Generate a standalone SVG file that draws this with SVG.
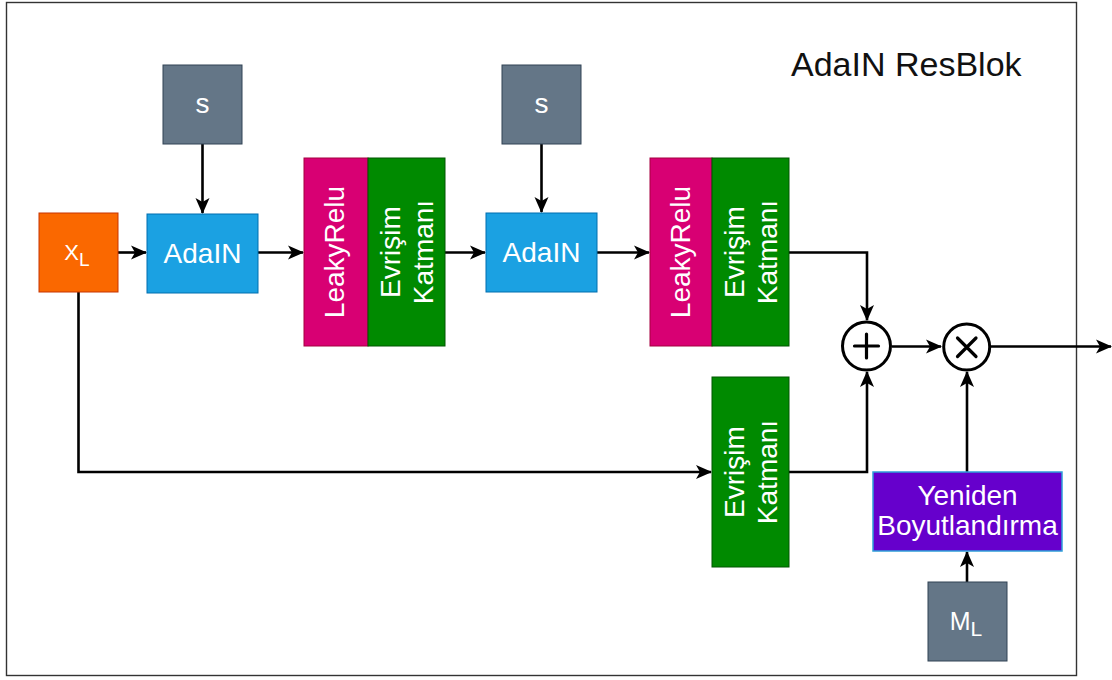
<svg xmlns="http://www.w3.org/2000/svg" width="1112" height="680" viewBox="0 0 1112 680">
<defs>
<style>
text{font-family:"Liberation Sans",Arial,sans-serif;fill:#ffffff}
.t{font-size:28px;text-anchor:middle}
.title{font-size:34px;fill:#111111}
.gray{fill:#647687;stroke:#314354;stroke-width:1}
.blue{fill:#1ba1e2;stroke:#006eaf;stroke-width:1}
.orange{fill:#fa6800;stroke:#c73500;stroke-width:1}
.pink{fill:#d80073;stroke:#a50040;stroke-width:1}
.green{fill:#008a00;stroke:#005700;stroke-width:1}
.purple{fill:#6600cc;stroke:#2f9fd8;stroke-width:1.5}
.c{fill:none;stroke:#000000;stroke-width:2.6;marker-end:url(#ah)}
.op{fill:#ffffff;stroke:#000000;stroke-width:3}
.sym{stroke:#000000;stroke-width:3.2;stroke-linecap:round;fill:none}
</style>
<marker id="ah" markerUnits="userSpaceOnUse" viewBox="0 0 16 16" markerWidth="16" markerHeight="16" refX="15" refY="8" orient="auto">
<path d="M0,1 L16,8 L0,15 L4,8 z" fill="#000000"/>
</marker>
</defs>
<rect x="6.5" y="2.5" width="1070" height="673" fill="#ffffff" stroke="#333333" stroke-width="1.4"/>
<text class="title" x="791" y="76">AdaIN ResBlok</text>

<g id="connectors">
<path class="c" d="M202.5,144 V213"/>
<path class="c" d="M118,252.5 H146"/>
<path class="c" d="M258,252.5 H303"/>
<path class="c" d="M445,252.5 H485"/>
<path class="c" d="M541.5,144 V212"/>
<path class="c" d="M597,252.5 H649"/>
<path class="c" d="M789,252.5 H867 V320"/>
<path class="c" d="M78.5,292 V472 H711"/>
<path class="c" d="M789,472 H867 V372"/>
<path class="c" d="M892,346.5 H941"/>
<path class="c" d="M991,346.5 H1111"/>
<path class="c" d="M967,472 V372"/>
<path class="c" d="M967,582 V552"/>
</g>

<g id="s1"><rect class="gray" x="163" y="65" width="79" height="79"/><text class="t" x="202.5" y="113" font-size="27">s</text></g>
<g id="s2"><rect class="gray" x="502" y="65" width="79" height="79"/><text class="t" x="541.5" y="113" font-size="27">s</text></g>
<g id="xl"><rect class="orange" x="39" y="213" width="79" height="79"/><text x="77" y="260" font-size="22" text-anchor="middle">X<tspan font-size="19" dy="6">L</tspan></text></g>
<g id="adain1"><rect class="blue" x="147" y="214" width="111" height="79"/><text class="t" x="202.5" y="263">AdaIN</text></g>
<g id="leaky1"><rect class="pink" x="304" y="158" width="64" height="188"/><text class="t" transform="translate(343.5,252) rotate(-90)">LeakyRelu</text></g>
<g id="conv1"><rect class="green" x="368" y="158" width="77" height="188"/><text class="t" transform="translate(400,252) rotate(-90)">Evrişim</text><text class="t" transform="translate(433.3,252) rotate(-90)">Katmanı</text></g>
<g id="adain2"><rect class="blue" x="486" y="213" width="111" height="79"/><text class="t" x="541.5" y="262">AdaIN</text></g>
<g id="leaky2"><rect class="pink" x="650" y="158" width="62" height="188"/><text class="t" transform="translate(689.5,252) rotate(-90)">LeakyRelu</text></g>
<g id="conv2"><rect class="green" x="712" y="158" width="77" height="188"/><text class="t" transform="translate(743.5,252) rotate(-90)">Evrişim</text><text class="t" transform="translate(776.8,252) rotate(-90)">Katmanı</text></g>
<g id="conv3"><rect class="green" x="712" y="377" width="77" height="190"/><text class="t" transform="translate(743.5,472) rotate(-90)">Evrişim</text><text class="t" transform="translate(776.8,472) rotate(-90)">Katmanı</text></g>
<g id="plus"><circle class="op" cx="866.5" cy="346" r="24"/><path class="sym" d="M854.5,346 H878.5 M866.5,334 V358"/></g>
<g id="times"><circle class="op" cx="966.7" cy="347" r="23"/><path class="sym" d="M957.5,338 L976,356.5 M976,338 L957.5,356.5"/></g>
<g id="resize"><rect class="purple" x="873" y="472" width="189" height="79"/><text class="t" x="967.5" y="505" font-size="27">Yeniden</text><text class="t" x="967.5" y="535" font-size="27">Boyutlandırma</text></g>
<g id="ml"><rect class="gray" x="928" y="582" width="79" height="79"/><text x="966" y="630" font-size="25" text-anchor="middle">M<tspan font-size="21" dy="6">L</tspan></text></g>
</svg>
